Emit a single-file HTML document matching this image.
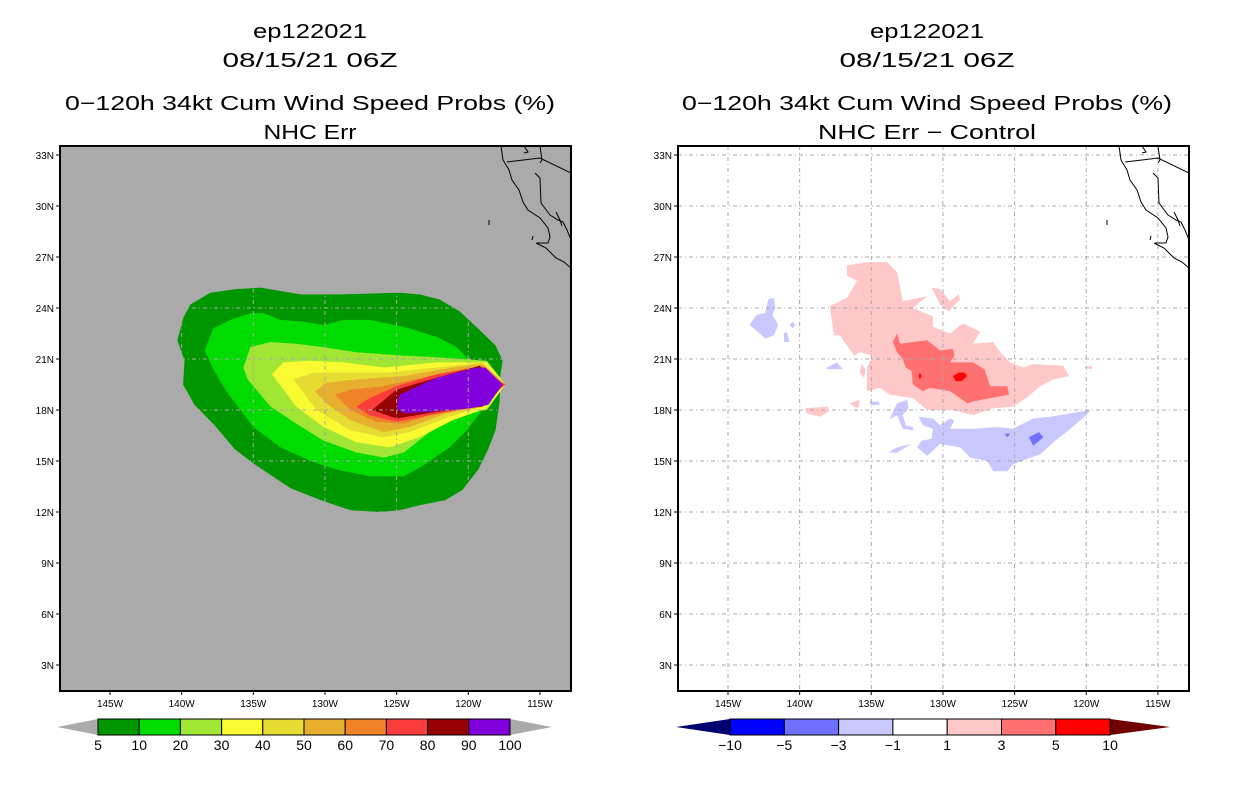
<!DOCTYPE html>
<html><head><meta charset="utf-8"><style>
html,body{margin:0;padding:0;background:#fff;}
svg{display:block;font-family:"Liberation Sans",sans-serif;}
</style></head><body>
<svg id="c" width="1236" height="800" viewBox="0 0 1236 800" xmlns="http://www.w3.org/2000/svg">
<rect width="1236" height="800" fill="#fff"/>
<g font-size="20" text-anchor="middle" fill="#000" lengthAdjust="spacingAndGlyphs">
<text x="310" y="38" textLength="114" lengthAdjust="spacingAndGlyphs">ep122021</text>
<text x="310" y="67" textLength="175" lengthAdjust="spacingAndGlyphs">08/15/21 06Z</text>
<text x="310" y="110" textLength="490" lengthAdjust="spacingAndGlyphs">0−120h 34kt Cum Wind Speed Probs (%)</text>
<text x="310" y="139" textLength="93" lengthAdjust="spacingAndGlyphs">NHC Err</text>
</g>
<g font-size="20" text-anchor="middle" fill="#000">
<text x="927" y="38" textLength="114" lengthAdjust="spacingAndGlyphs">ep122021</text>
<text x="927" y="67" textLength="175" lengthAdjust="spacingAndGlyphs">08/15/21 06Z</text>
<text x="927" y="110" textLength="490" lengthAdjust="spacingAndGlyphs">0−120h 34kt Cum Wind Speed Probs (%)</text>
<text x="927" y="139" textLength="218" lengthAdjust="spacingAndGlyphs">NHC Err − Control</text>
</g>
<g id="left"></g>
<g id="right"></g>
<g id="lcb"></g>
<g id="rcb"></g>
</svg>
<script>
// ---- data ----
const lonTicks = [145,140,135,130,125,120,115];
const latTicks = [33,30,27,24,21,18,15,12,9,6,3];
const leftLevels = ["5","10","20","30","40","50","60","70","80","90","100"];
const leftColors = ["#009600","#00dc00","#a0e632","#fafa32","#e6dc32","#e6af2d","#f08228","#fa3c3c","#960000","#8200dc"];
const rightLevels = ["−10","−5","−3","−1","1","3","5","10"];
const rightColors = ["#0000ff","#7070ff","#c8c8ff","#ffffff","#ffc8c8","#ff7070","#ff0000"];
// contours as [lonW, lat] pairs
const prob5 = [[139.9,23.4],[139.4,24.2],[138.0,24.9],[136.3,25.1],[134.5,25.2],[133.1,25.0],[131.7,24.8],[128.9,24.8],[124.8,24.9],[123.4,24.8],[122.0,24.5],[120.6,23.8],[119.2,22.7],[118.1,21.8],[117.6,20.9],[117.8,19.8],[117.8,18.6],[118.1,16.8],[118.6,15.7],[119.3,14.5],[120.4,13.3],[121.6,12.7],[123.4,12.4],[124.8,12.1],[126.2,12.0],[128.2,12.1],[130.3,12.7],[132.4,13.4],[134.9,14.8],[136.3,15.7],[137.7,17.1],[139.1,18.3],[139.9,19.5],[139.8,20.9],[140.3,22.1]];
const prob10 = [[138.4,21.5],[137.8,22.8],[136.6,23.3],[135.2,23.7],[134.3,23.7],[133.1,23.3],[131.5,23.2],[130.1,23.0],[128.7,23.3],[126.9,23.3],[124.5,22.9],[122.2,22.3],[120.8,21.7],[119.9,20.9],[117.8,19.8],[117.4,19.5],[118.5,18.6],[119.2,17.8],[120.1,16.8],[121.3,15.8],[123.2,14.7],[124.5,14.1],[126.9,14.1],[129.2,14.5],[131.0,15.0],[133.1,15.8],[135.0,17.0],[136.8,19.0],[137.8,20.4]];
const prob20 = [[135.7,20.5],[135.2,21.7],[133.8,22.0],[132.0,21.9],[130.1,21.7],[127.8,21.4],[124.5,21.2],[122.2,21.1],[118.7,20.9],[117.4,19.5],[118.7,18.0],[120.4,17.8],[122.7,16.7],[124.5,15.5],[125.9,15.2],[127.8,15.5],[130.1,16.2],[132.0,17.2],[133.8,18.2],[135.4,19.8]];
const prob30 = [[133.7,20.1],[132.9,20.8],[131.0,20.9],[128.7,20.8],[125.9,20.5],[122.2,20.8],[118.7,20.8],[117.4,19.5],[118.7,18.1],[121.1,17.4],[123.4,16.4],[125.5,15.8],[127.8,16.1],[130.1,17.0],[132.0,18.2]];
const prob40 = [[132.2,19.8],[130.8,20.2],[128.7,20.2],[125.7,20.2],[122.2,20.5],[119.0,20.8],[117.4,19.5],[119.0,18.2],[121.3,17.6],[124.1,16.7],[125.9,16.4],[128.2,16.8],[130.6,18.0]];
const prob50 = [[130.7,19.1],[129.9,19.6],[127.8,19.8],[124.5,20.0],[121.1,20.5],[119.0,20.7],[117.4,19.5],[119.0,18.2],[121.5,17.8],[124.1,17.0],[125.9,16.7],[128.2,17.4],[129.9,18.4]];
const prob60 = [[129.3,18.9],[128.2,19.2],[125.9,19.4],[122.7,20.0],[119.9,20.5],[117.4,19.5],[119.9,18.1],[122.2,17.8],[124.5,17.2],[126.4,17.3],[128.2,18.0]];
const prob70 = [[127.8,18.2],[126.9,18.7],[125.0,19.4],[122.2,20.1],[119.4,20.5],[117.4,19.5],[119.4,18.2],[122.7,17.7],[125.0,17.3],[126.9,17.7]];
const prob80 = [[126.7,18.0],[125.0,19.2],[122.2,19.9],[119.2,20.6],[117.8,19.6],[119.0,18.2],[122.2,17.9],[125.0,17.5]];
const prob90 = [[125.0,18.1],[124.8,18.9],[122.2,19.9],[119.4,20.5],[118.8,20.5],[117.6,19.5],[118.6,18.3],[119.9,18.1],[122.7,17.9],[124.5,17.8]];
const diffPos1 = [
 [[136.7,26.5],[135.3,26.7],[133.9,26.7],[133.2,26.1],[132.8,24.4],[131.1,24.7],[132.1,24.0],[130.7,23.5],[130.7,22.9],[129.5,22.5],[128.6,23.1],[127.4,22.6],[127.9,21.9],[126.5,22.0],[126.0,21.4],[125.3,20.8],[124.4,20.5],[123.7,20.7],[121.6,20.6],[121.2,20.0],[122.3,19.8],[123.2,19.4],[124.2,18.7],[125.1,18.2],[126.5,18.1],[127.9,17.7],[129.3,18.0],[131.1,18.0],[132.1,18.7],[133.7,18.9],[134.4,19.3],[135.3,19.1],[135.3,20.5],[134.9,21.2],[135.8,21.4],[136.2,21.2],[137.2,22.4],[137.6,22.4],[137.9,24.1],[136.7,24.6],[136.0,25.6],[136.7,25.9]],
 [[130.8,25.2],[130.2,25.1],[129.5,24.4],[128.9,24.8],[128.8,24.5],[129.6,23.8],[130.2,24.2]],
 [[139.6,18.1],[138.0,18.2],[138.0,17.9],[138.6,17.6],[139.5,17.8]],
 [[135.7,20.7],[135.4,20.4],[135.5,19.9],[135.8,20.2]],
 [[136.5,18.4],[135.8,18.6],[135.9,18.1],[136.2,18.2]],
 [[120.2,20.5],[119.6,20.6],[119.6,20.4]]
];
const diffPos3 = [[[133.5,22.0],[133.2,22.5],[133.0,21.9],[131.1,22.1],[130.2,21.5],[129.3,21.6],[129.2,21.2],[129.5,20.8],[127.9,20.8],[127.1,20.4],[126.7,19.4],[125.5,19.4],[125.4,18.9],[126.7,18.7],[127.9,18.5],[128.3,18.4],[129.5,19.1],[130.9,19.3],[131.4,19.1],[132.1,19.5],[132.2,20.3],[132.6,20.5],[132.8,21.0],[133.2,21.4]]];
const diffPos5 = [[[129.3,20.0],[128.9,20.2],[128.5,20.2],[128.3,20.0],[128.7,19.7],[129.1,19.7]],[[131.6,20.2],[131.5,20.0],[131.6,19.8],[131.7,20.0]]];
const diffNeg1 = [
 [[131.7,17.6],[130.7,17.5],[130.2,17.1],[129.5,17.5],[129.2,17.4],[129.5,16.9],[127.9,16.9],[126.2,17.0],[125.1,16.9],[123.7,17.5],[122.5,17.6],[121.1,17.8],[119.7,18.0],[120.0,17.7],[121.1,16.9],[122.3,16.1],[123.2,15.4],[124.2,15.1],[125.1,14.8],[125.5,14.4],[126.5,14.4],[126.9,15.0],[128.1,15.2],[128.8,15.8],[130.2,16.0],[130.7,15.6],[131.1,15.3],[131.8,15.8],[131.5,16.2],[130.8,16.3],[130.7,16.9],[131.4,17.1]],
 [[133.7,17.5],[133.2,18.4],[132.5,18.6],[132.4,18.1],[132.8,17.7],[132.6,17.1],[132.1,17.0],[132.1,16.8],[132.8,16.9],[133.2,17.7],[133.6,17.5]],
 [[133.8,15.5],[133.2,15.8],[132.2,16.0],[133.2,15.5]],
 [[143.5,23.0],[143.0,23.6],[142.4,23.7],[142.2,24.5],[141.8,24.6],[141.7,24.0],[141.9,23.6],[141.5,23.0],[141.8,22.4],[142.4,22.2],[143.2,22.8]],
 [[141.1,22.5],[140.9,22.6],[140.7,22.0],[141.1,22.0]],
 [[140.7,23.0],[140.5,23.2],[140.3,23.0],[140.5,22.8]],
 [[138.1,20.5],[137.4,20.8],[137.0,20.4],[138.1,20.4]],
 [[135.1,18.5],[134.5,18.5],[134.4,18.3],[135.1,18.3]]
];
const diffNeg3 = [[[124.0,16.4],[123.3,16.7],[123.0,16.4],[123.7,15.9]],[[125.7,16.6],[125.3,16.6],[125.5,16.4]]];

// ---- axes ----
const NS="http://www.w3.org/2000/svg";
const PX_LON=14.33, PX_LAT=17, Y33=155;
function xs(x0){return lon=>x0+(145-lon)*PX_LON;}
function ys(lat){return Y33+(33-lat)*PX_LAT;}
function mk(tag,attrs,parent){const e=document.createElementNS(NS,tag);for(const k in attrs)e.setAttribute(k,attrs[k]);parent.appendChild(e);return e;}
function poly(pts,xf,fill,parent,name){
  const e=mk('polygon',{points:pts.map(p=>xf(p[0]).toFixed(1)+','+ys(p[1]).toFixed(1)).join(' '),fill:fill},parent);
  
  
}
const coast=[
 "M501,146 L503,160 L509,170 L512,180 L519,190 L523,202 L528,210 L540,218 L548,228 L550,237 L548,243 L537,243",
 "M535,173 L540,178 L541,203 L550,215 L558,220 L563,222 L567,230 L571,240",
 "M507,162 L540,158 L571,173",
 "M536,243 L546,248 L556,258 L564,262 L571,268",
 "M524,146 L528,152 L524,153",
 "M540,146 L542,160 L540,163",
 "M556,212 L560,220 L562,226",
 "M489,220 L489,225","M533,236 L532,240"
];
function panel(g,x0,bg,filler){
  const xf=xs(x0);
  const L=x0-50,R=x0+461,T=146,B=691;
  const cp=mk('clipPath',{id:'cp'+x0},g);mk('rect',{x:L,y:T,width:R-L,height:B-T},cp);
  const bgr=mk('rect',{x:L,y:T,width:R-L,height:B-T,fill:bg},g);
  
  
  const inner=mk('g',{'clip-path':'url(#cp'+x0+')'},g);
  filler(inner,xf);
  const grid=mk('g',{stroke:'#a8a8a8','stroke-width':1,'stroke-dasharray':'4,3,1,3'},inner);
  
  
  lonTicks.forEach(l=>mk('line',{x1:xf(l),x2:xf(l),y1:T,y2:B},grid));
  latTicks.forEach(l=>mk('line',{x1:L,x2:R,y1:ys(l),y2:ys(l)},grid));
  const cg=mk('g',{fill:'none',stroke:'#000','stroke-width':1,transform:'translate('+(x0-110)+',0)'},inner);
  
  
  coast.forEach(d=>mk('path',{d:d},cg));
  const fr=mk('rect',{x:L,y:T,width:R-L,height:B-T,fill:'none',stroke:'#000','stroke-width':2},g);
  
  
  lonTicks.forEach(l=>{
    mk('line',{x1:xf(l),x2:xf(l),y1:B,y2:B+4,stroke:'#000'},g);
    const t=mk('text',{x:xf(l),y:B+16,'font-size':10,'text-anchor':'middle'},g);t.textContent=l+'W';
    
    
  });
  latTicks.forEach(l=>{
    mk('line',{x1:L-4,x2:L,y1:ys(l),y2:ys(l),stroke:'#000'},g);
    const t=mk('text',{x:L-6,y:ys(l)+4,'font-size':10,'text-anchor':'end'},g);t.textContent=l+'N';
    
    
  });
}
panel(document.getElementById('left'),110,'#aaaaaa',(g,xf)=>{
  const lv=[prob5,prob10,prob20,prob30,prob40,prob50,prob60,prob70,prob80,prob90];
  lv.forEach((p,i)=>poly(p,xf,leftColors[i],g,'contour-'+leftLevels[i]));
});
panel(document.getElementById('right'),728,'#ffffff',(g,xf)=>{
  diffPos1.forEach(p=>poly(p,xf,rightColors[4],g,'diff-1-to-3'));
  diffPos3.forEach(p=>poly(p,xf,rightColors[5],g,'diff-3-to-5'));
  diffPos5.forEach(p=>poly(p,xf,rightColors[6],g,'diff-5-to-10'));
  diffNeg1.forEach(p=>poly(p,xf,rightColors[2],g,'diff-minus1-to-minus3'));
  diffNeg3.forEach(p=>poly(p,xf,rightColors[1],g,'diff-minus3-to-minus5'));
});
function colorbar(g,x0,segW,tipL,tipR,colors,labels,lc,rc){
  const T=719,B=735,M=727,n=colors.length,x1=x0+n*segW;
  const a=mk('polygon',{points:`${tipL},${M} ${x0},${T} ${x0},${B}`,fill:lc},g);
  
  
  const b=mk('polygon',{points:`${tipR},${M} ${x1},${T} ${x1},${B}`,fill:rc},g);
  
  
  colors.forEach((c,i)=>{
    const r=mk('rect',{x:x0+i*segW,y:T,width:segW,height:B-T,fill:c,stroke:'#000','stroke-width':1},g);
    
    
  });
  labels.forEach((l,i)=>{
    const t=mk('text',{x:x0+i*segW,y:750,'font-size':14,'text-anchor':'middle'},g);t.textContent=l;
    
    
  });
}
colorbar(document.getElementById('lcb'),98,41.2,57,552,leftColors,leftLevels,'#aaaaaa','#aaaaaa');
colorbar(document.getElementById('rcb'),730,54.3,676,1170,rightColors,rightLevels,'#000070','#700000');
</script>
</body></html>
